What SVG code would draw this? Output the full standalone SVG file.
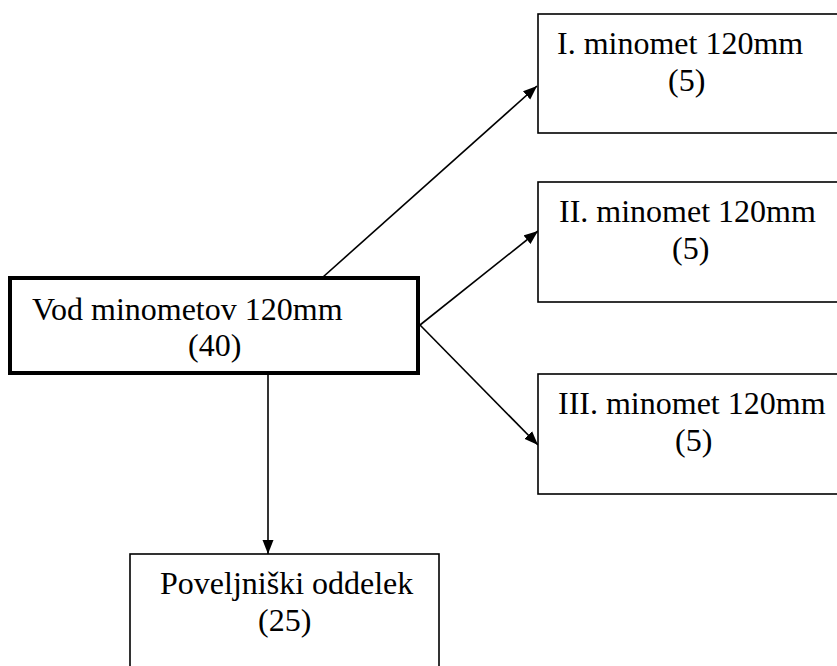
<svg xmlns="http://www.w3.org/2000/svg" width="837" height="666" viewBox="0 0 837 666">
<style>
  .lbl { font-family: "Liberation Serif", "Times New Roman", Times, serif; font-size: 32px; fill: #000; }
  .box { fill: #fff; stroke: #000; stroke-width: 1.6; }
  .main { fill: #fff; stroke: #000; stroke-width: 4; }
  .conn { stroke: #000; stroke-width: 1.6; fill: none; marker-end: url(#arrow); }
</style>
<defs>
  <marker id="arrow" markerUnits="userSpaceOnUse" markerWidth="16" markerHeight="12" refX="14" refY="6" orient="auto">
    <path d="M0,0.5 L14,6 L0,11.5 z" fill="#000"/>
  </marker>
</defs>
<rect width="837" height="666" fill="#fff"/>
<g id="connectors">
  <line class="conn" x1="323" y1="277" x2="537" y2="86"/>
  <line class="conn" x1="420" y1="325" x2="538" y2="231"/>
  <line class="conn" x1="420" y1="325" x2="538" y2="445"/>
  <line class="conn" x1="268" y1="374" x2="268" y2="554"/>
</g>
<g id="node-main">
  <rect class="main" x="10" y="278" width="408" height="95"/>
  <text class="lbl" x="32" y="320">Vod minometov 120mm</text>
  <text class="lbl" x="188" y="356">(40)</text>
</g>
<g id="node-1">
  <rect class="box" x="538" y="14" width="320" height="119"/>
  <text class="lbl" x="557" y="54">I. minomet 120mm</text>
  <text class="lbl" x="668" y="91">(5)</text>
</g>
<g id="node-2">
  <rect class="box" x="538" y="182" width="320" height="120"/>
  <text class="lbl" x="559" y="222">II. minomet 120mm</text>
  <text class="lbl" x="672" y="259">(5)</text>
</g>
<g id="node-3">
  <rect class="box" x="538" y="374" width="320" height="120"/>
  <text class="lbl" x="558" y="414">III. minomet 120mm</text>
  <text class="lbl" x="675" y="451">(5)</text>
</g>
<g id="node-4">
  <rect class="box" x="130" y="554" width="309" height="130"/>
  <text class="lbl" x="160" y="594">Poveljniški oddelek</text>
  <text class="lbl" x="258" y="631">(25)</text>
</g>
</svg>
